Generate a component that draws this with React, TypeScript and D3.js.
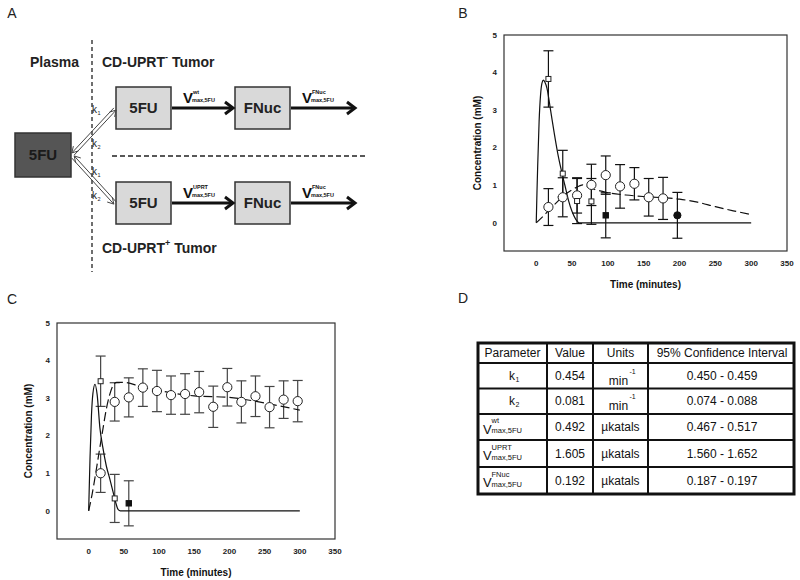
import React from 'react';
import * as d3 from 'd3';

const FONT = 'Liberation Sans, Arial, Helvetica, sans-serif';

// ---------- shared axis ticks ----------
const timeTicks = [0, 50, 100, 150, 200, 250, 300, 350];
const concTicks = [0, 1, 2, 3, 4, 5];

// ---------- Panel B data (CD-UPRT- tumor) ----------
const bCircleTime = [17, 37, 57, 77, 97, 117, 137, 157, 177];
const bCircleConc = [0.42, 0.68, 0.73, 1.01, 1.27, 0.97, 1.04, 0.68, 0.65];
const bCircleErr = [0.49, 0.52, 0.47, 0.55, 0.51, 0.58, 0.43, 0.5, 0.56];
const bSquareTime = [17, 37, 57, 77];
const bSquareConc = [3.83, 1.31, 0.58, 0.57];
const bSquareErr = [0.75, 0.62, 0.6, 0.61];
const bFSquareTime = [97];
const bFSquareConc = [0.2];
const bFSquareErr = [0.6];
const bFCircleTime = [197];
const bFCircleConc = [0.2];
const bFCircleErr = [0.61];
const bSolidTime = [0, 1, 2, 4, 6, 8, 10, 12, 15, 20, 25, 30, 35, 40, 45, 50, 55, 60, 100, 200, 300];
const bSolidConc = [0, 0.8, 1.5, 2.7, 3.4, 3.72, 3.8, 3.75, 3.58, 3.0, 2.4, 1.85, 1.4, 1.0, 0.6, 0.3, 0.1, 0, 0, 0, 0];
const bDashTime = [0, 10, 20, 30, 40, 50, 60, 65, 70, 80, 100, 125, 150, 175, 200, 225, 250, 275, 300];
const bDashConc = [0, 0.18, 0.38, 0.57, 0.75, 0.88, 0.98, 1.01, 0.97, 0.9, 0.8, 0.74, 0.7, 0.67, 0.63, 0.55, 0.43, 0.32, 0.22];

// ---------- Panel C data (CD-UPRT+ tumor) ----------
const cCircleTime = [17, 37, 57, 77, 97, 117, 137, 157, 177, 197, 217, 237, 257, 277, 297];
const cCircleConc = [1.0, 2.9, 3.02, 3.28, 3.19, 3.08, 3.11, 3.16, 2.77, 3.29, 2.9, 3.05, 2.76, 2.96, 2.92];
const cCircleErr = [0.51, 0.51, 0.52, 0.5, 0.55, 0.51, 0.54, 0.55, 0.55, 0.5, 0.56, 0.54, 0.55, 0.5, 0.55];
const cSquareTime = [17, 37];
const cSquareConc = [3.45, 0.33];
const cSquareErr = [0.67, 0.64];
const cFSquareTime = [57];
const cFSquareConc = [0.2];
const cFSquareErr = [0.6];
const cSolidTime = [0, 1, 2, 4, 6, 9, 12, 16, 20, 25, 30, 35, 38, 42, 45, 100, 200, 300];
const cSolidConc = [0, 0.75, 1.45, 2.55, 3.12, 3.37, 3.1, 2.2, 1.7, 1.2, 0.85, 0.48, 0.25, 0.03, 0, 0, 0, 0];
const cDashTime = [0, 5, 10, 16, 20, 25, 30, 35, 40, 50, 75, 100, 150, 200, 250, 300];
const cDashConc = [0, 0.45, 1.0, 1.7, 2.15, 2.7, 3.1, 3.35, 3.42, 3.42, 3.3, 3.2, 3.06, 3.02, 2.87, 2.68];

// ---------- Panel D table ----------
const tableHeaders = ['Parameter', 'Value', 'Units', '95% Confidence Interval'];
const paramBase = ['k', 'k', 'V', 'V', 'V'];
const paramSup = ['', '', 'wt', 'UPRT', 'FNuc'];
const paramSub = ['1', '2', 'max,5FU', 'max,5FU', 'max,5FU'];
const paramValue = ['0.454', '0.081', '0.492', '1.605', '0.192'];
const paramUnit = ['min', 'min', 'µkatals', 'µkatals', 'µkatals'];
const paramUnitSup = ['-1', '-1', '', '', ''];
const paramCI = ['0.450 - 0.459', '0.074 - 0.088', '0.467 - 0.517', '1.560 - 1.652', '0.187 - 0.197'];

type Series = { t: number[]; c: number[]; e: number[]; shape: 'circle' | 'square' | 'fsquare' | 'fcircle' };

function Plot(props: {
  x0: number; x1: number; y0: number; y1: number;
  solidT: number[]; solidC: number[]; dashT: number[]; dashC: number[];
  series: Series[]; errColor: string; titleX: number;
}) {
  const { x0, x1, y0, y1, series, errColor } = props;
  const x = d3.scaleLinear().domain([-45, 350]).range([x0, x1]);
  const y = d3.scaleLinear().domain([-0.75, 5]).range([y1, y0]);
  const line = d3.line<[number, number]>().x(d => x(d[0])).y(d => y(d[1])).curve(d3.curveMonotoneX);
  const solid = line(d3.zip(props.solidT, props.solidC) as [number, number][]) || '';
  const dash = line(d3.zip(props.dashT, props.dashC) as [number, number][]) || '';
  return (
    <g fontFamily={FONT}>
      <rect x={x0} y={y0} width={x1 - x0} height={y1 - y0} fill="none" stroke="#333" strokeWidth={1.2} />
      {concTicks.map(v => (
        <text key={'y' + v} x={x0 - 7} y={y(v)} dy="0.35em" textAnchor="end" fontSize={8} fontWeight="bold" fill="#222">{v}</text>
      ))}
      {timeTicks.map(v => (
        <text key={'x' + v} x={x(v)} y={y1 + 12} dy="0.35em" textAnchor="middle" fontSize={8} fontWeight="bold" fill="#222">{v}</text>
      ))}
      <text x={(x0 + x1) / 2} y={y1 + 33} dy="0.35em" textAnchor="middle" fontSize={10} fontWeight="bold" fill="#111">Time (minutes)</text>
      <text transform={`translate(${props.titleX},${(y0 + y1) / 2}) rotate(-90)`} dy="0.35em" textAnchor="middle" fontSize={10} fontWeight="bold" fill="#111">Concentration (mM)</text>
      {/* error bars */}
      {series.map((s, si) => s.t.map((t, i) => {
        const cx = x(t), top = y(s.c[i] + s.e[i]), bot = y(s.c[i] - s.e[i]);
        return (
          <g key={`e${si}-${i}`} stroke={errColor} strokeWidth={1.2}>
            <line x1={cx} x2={cx} y1={top} y2={bot} />
            <line x1={cx - 5} x2={cx + 5} y1={top} y2={top} />
            <line x1={cx - 5} x2={cx + 5} y1={bot} y2={bot} />
          </g>
        );
      }))}
      <path d={solid} fill="none" stroke="#111" strokeWidth={1.2} />
      <path d={dash} fill="none" stroke="#111" strokeWidth={1.2} strokeDasharray="9,4" />
      {series.map((s, si) => s.t.map((t, i) => {
        const cx = x(t), cy = y(s.c[i]);
        if (s.shape === 'circle') return <circle key={`m${si}-${i}`} cx={cx} cy={cy} r={4.6} fill="#fff" stroke="#222" strokeWidth={1} />;
        if (s.shape === 'fcircle') return <circle key={`m${si}-${i}`} cx={cx} cy={cy} r={3.6} fill="#111" stroke="#111" strokeWidth={1} />;
        if (s.shape === 'square') return <rect key={`m${si}-${i}`} x={cx - 2.5} y={cy - 2.5} width={5} height={5} fill="#fff" stroke="#222" strokeWidth={1} />;
        return <rect key={`m${si}-${i}`} x={cx - 2.7} y={cy - 2.7} width={5.4} height={5.4} fill="#111" stroke="#111" strokeWidth={1} />;
      }))}
    </g>
  );
}

function Arrow({ x1, x2, y }: { x1: number; x2: number; y: number }) {
  return (
    <g stroke="#111" strokeWidth={3} fill="none">
      <line x1={x1} x2={x2 - 1} y1={y} y2={y} />
      <polyline points={`${x2 - 8},${y - 6} ${x2},${y} ${x2 - 8},${y + 6}`} strokeLinejoin="miter" />
    </g>
  );
}

function DoubleArrow({ ax, ay, bx, by }: { ax: number; ay: number; bx: number; by: number }) {
  const dx = bx - ax, dy = by - ay, L = Math.hypot(dx, dy);
  const ux = dx / L, uy = dy / L, nx = -uy, ny = ux, o = 1.6;
  const head = (tx: number, ty: number, dirx: number, diry: number) => {
    const px = -diry, py = dirx;
    return `${tx - dirx * 6 + px * 3.5},${ty - diry * 6 + py * 3.5} ${tx},${ty} ${tx - dirx * 6 - px * 3.5},${ty - diry * 6 - py * 3.5}`;
  };
  const a1x = ax + nx * o, a1y = ay + ny * o, b1x = bx + nx * o, b1y = by + ny * o;
  const a2x = ax - nx * o, a2y = ay - ny * o, b2x = bx - nx * o, b2y = by - ny * o;
  return (
    <g stroke="#444" strokeWidth={1} fill="none">
      <line x1={a1x} y1={a1y} x2={b1x} y2={b1y} />
      <line x1={a2x} y1={a2y} x2={b2x} y2={b2y} />
      <polyline points={head(b1x, b1y, ux, uy)} />
      <polyline points={head(a2x, a2y, -ux, -uy)} />
    </g>
  );
}

function VLabel({ x, y, sup }: { x: number; y: number; sup: string }) {
  return (
    <g fontFamily={FONT} fill="#111" fontWeight="bold">
      <text x={x} y={y} fontSize={15}>V</text>
      <text x={x + 10} y={y - 9} fontSize={5.5}>{sup}</text>
      <text x={x + 9} y={y - 1} fontSize={5.5}>max,5FU</text>
    </g>
  );
}

function PanelA() {
  return (
    <g fontFamily={FONT}>
      <text x={12} y={13} dy="0.35em" textAnchor="middle" fontSize={14} fill="#222">A</text>
      <line x1={92} x2={92} y1={40} y2={272} stroke="#222" strokeWidth={1.3} strokeDasharray="4,3" />
      <line x1={112} x2={367} y1={156} y2={156} stroke="#222" strokeWidth={1.3} strokeDasharray="5,3" />
      <text x={30} y={67} fontSize={14} fontWeight="bold" fill="#222">Plasma</text>
      <text x={102} y={67} fontSize={14} fontWeight="bold" fill="#222">CD-UPRT<tspan fontSize={9} dy={-7}>-</tspan><tspan dy={7}> Tumor</tspan></text>
      <text x={102} y={253} fontSize={14} fontWeight="bold" fill="#222">CD-UPRT<tspan fontSize={9} dy={-7}>+</tspan><tspan dy={7}> Tumor</tspan></text>
      {/* plasma 5FU */}
      <rect x={15} y={133} width={56} height={44} fill="#555" stroke="#333" strokeWidth={1.5} />
      <text x={43} y={155} dy="0.35em" textAnchor="middle" fontSize={15} fontWeight="bold" fill="#1a1a1a">5FU</text>
      {/* tumor boxes */}
      {[[116, 87], [235, 87], [116, 182], [235, 182]].map(([bx, by], i) => (
        <g key={i}>
          <rect x={bx} y={by} width={55} height={42} fill="#d9d9d9" stroke="#333" strokeWidth={1.5} />
          <text x={bx + 27.5} y={by + 21} dy="0.35em" textAnchor="middle" fontSize={15} fontWeight="bold" fill="#222">{i % 2 === 0 ? '5FU' : 'FNuc'}</text>
        </g>
      ))}
      <Arrow x1={172} x2={233} y={108} />
      <Arrow x1={291} x2={355} y={108} />
      <Arrow x1={172} x2={233} y={203} />
      <Arrow x1={291} x2={355} y={203} />
      <VLabel x={183} y={103} sup="wt" />
      <VLabel x={302} y={103} sup="FNuc" />
      <VLabel x={183} y={198} sup="UPRT" />
      <VLabel x={302} y={198} sup="FNuc" />
      <DoubleArrow ax={73} ay={154} bx={115} by={109} />
      <DoubleArrow ax={73} ay={157} bx={115} by={203} />
      {[['1', 113], ['2', 147], ['1', 175], ['2', 199]].map(([s, yy], i) => (
        <g key={'k' + i} fill="#222" fontSize={10}>
          <text x={92} y={yy as number}>k</text>
          <text x={97.5} y={(yy as number) + 2} fontSize={5.5}>{s}</text>
        </g>
      ))}
    </g>
  );
}

function PanelD() {
  const colX = [478, 547, 593, 648, 794];
  const rowY = [343, 363, 388.5, 414, 440, 467, 494];
  const cx = (i: number) => (colX[i] + colX[i + 1]) / 2;
  const cy = (r: number) => (rowY[r] + rowY[r + 1]) / 2;
  return (
    <g fontFamily={FONT} fill="#111">
      <text x={463} y={298} dy="0.35em" textAnchor="middle" fontSize={14} fill="#222">D</text>
      {tableHeaders.map((h, i) => (
        <text key={h} x={i === 3 ? 722 : cx(i)} y={cy(0)} dy="0.35em" textAnchor="middle" fontSize={12}>{h}</text>
      ))}
      {paramBase.map((b, r) => {
        const yc = cy(r + 1);
        const isK = b === 'k';
        return (
          <g key={'r' + r} fontSize={12}>
            {isK ? (
              <g>
                <text x={509} y={yc} dy="0.35em">k</text>
                <text x={515.5} y={yc + 6} fontSize={7}>{paramSub[r]}</text>
              </g>
            ) : (
              <g>
                <text x={483} y={yc + 2} dy="0.35em" fontSize={13}>V</text>
                <text x={491.5} y={yc - 4} fontSize={7.5}>{paramSup[r]}</text>
                <text x={491.5} y={yc + 6} fontSize={7.5}>{paramSub[r]}</text>
              </g>
            )}
            <text x={cx(1)} y={yc} dy="0.35em" textAnchor="middle">{paramValue[r]}</text>
            {paramUnitSup[r] ? (
              <g>
                <text x={cx(2) - 2} y={yc + 5} dy="0.35em" textAnchor="middle">{paramUnit[r]}</text>
                <text x={cx(2) + 9} y={yc - 2} fontSize={7}>{paramUnitSup[r]}</text>
              </g>
            ) : (
              <text x={cx(2)} y={yc} dy="0.35em" textAnchor="middle">{paramUnit[r]}</text>
            )}
            <text x={722} y={yc} dy="0.35em" textAnchor="middle">{paramCI[r]}</text>
          </g>
        );
      })}
      <g stroke="#111" strokeWidth={2}>
        {colX.slice(1, 4).map(xx => <line key={'c' + xx} x1={xx} x2={xx} y1={rowY[0]} y2={rowY[6]} />)}
        {rowY.slice(1, 6).map(yy => <line key={'r' + yy} x1={colX[0]} x2={colX[4]} y1={yy} y2={yy} />)}
      </g>
      <rect x={colX[0]} y={rowY[0]} width={colX[4] - colX[0]} height={rowY[6] - rowY[0]} fill="none" stroke="#111" strokeWidth={3} />
    </g>
  );
}

export default function App() {
  const bSeries: Series[] = [
    { t: bCircleTime, c: bCircleConc, e: bCircleErr, shape: 'circle' },
    { t: bSquareTime, c: bSquareConc, e: bSquareErr, shape: 'square' },
    { t: bFSquareTime, c: bFSquareConc, e: bFSquareErr, shape: 'fsquare' },
    { t: bFCircleTime, c: bFCircleConc, e: bFCircleErr, shape: 'fcircle' },
  ];
  const cSeries: Series[] = [
    { t: cCircleTime, c: cCircleConc, e: cCircleErr, shape: 'circle' },
    { t: cSquareTime, c: cSquareConc, e: cSquareErr, shape: 'square' },
    { t: cFSquareTime, c: cFSquareConc, e: cFSquareErr, shape: 'fsquare' },
  ];
  return (
    <svg width={800} height={580} viewBox="0 0 800 580" style={{ position: 'absolute', left: 0, top: 0, background: '#fff' }}>
      <rect x={0} y={0} width={800} height={580} fill="#fff" />
      <PanelA />
      <text x={463} y={13} dy="0.35em" textAnchor="middle" fontSize={14} fill="#222" fontFamily={FONT}>B</text>
      <Plot x0={504} x1={787} y0={35} y1={251} solidT={bSolidTime} solidC={bSolidConc} dashT={bDashTime} dashC={bDashConc} series={bSeries} errColor="#111" titleX={477} />
      <text x={12} y={299} dy="0.35em" textAnchor="middle" fontSize={14} fill="#222" fontFamily={FONT}>C</text>
      <Plot x0={57} x1={335} y0={323} y1={539} solidT={cSolidTime} solidC={cSolidConc} dashT={cDashTime} dashC={cDashConc} series={cSeries} errColor="#444" titleX={28} />
      <PanelD />
    </svg>
  );
}
